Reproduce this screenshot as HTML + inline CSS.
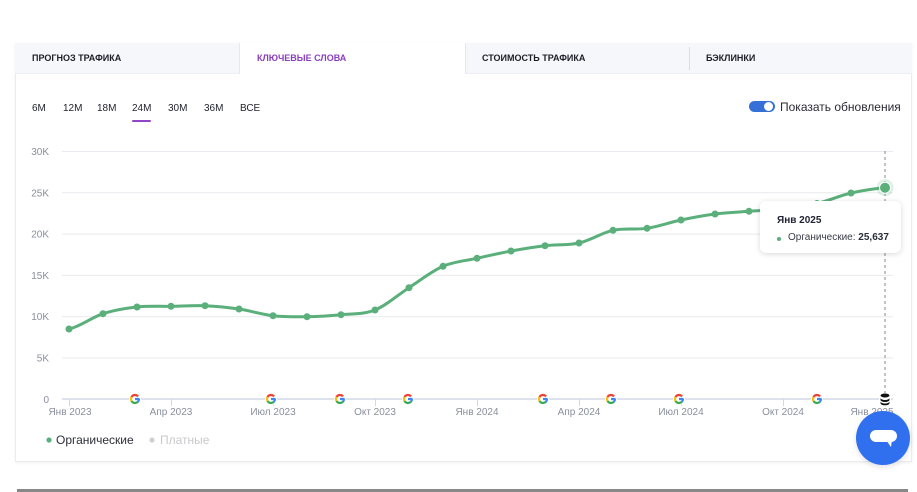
<!DOCTYPE html>
<html><head><meta charset="utf-8">
<style>
*{margin:0;padding:0;box-sizing:border-box}
html,body{width:917px;height:492px;background:#fff;overflow:hidden;font-family:"Liberation Sans","Noto Sans CJK SC",sans-serif}
.abs{position:absolute}
.card{left:15px;top:43px;width:897px;height:419px;background:#fff;border:1px solid #ececf0;border-top:none;box-shadow:0 1px 3px rgba(0,0,0,0.06)}
.tab{top:43px;height:31px;background:#f6f7fa;border-bottom:1px solid #eceef3;font-size:9px;font-weight:bold;color:#1e1e28;line-height:31px;white-space:nowrap}
.per{top:103px;font-size:10px;color:#23232e;white-space:nowrap;line-height:12px}
.tt{left:760px;top:201px;width:141px;height:52px;background:#fff;border-radius:6px;box-shadow:0 1px 6px rgba(0,0,0,0.16)}
</style></head><body>
<div class="abs card"></div>
<div class="abs tab" style="left:15px;width:225px;padding-left:17px;border-right:1px solid #e6e7ec">ПРОГНОЗ ТРАФИКА</div>
<div class="abs tab" style="left:240px;width:225px;padding-left:17px;background:#fff;border-bottom:none;color:#8a3fbd">КЛЮЧЕВЫЕ СЛОВА</div>
<div class="abs tab" style="left:465px;width:225px;padding-left:16px;border-left:1px solid #e6e7ec">СТОИМОСТЬ ТРАФИКА</div>
<div class="abs" style="left:689px;top:47px;width:1px;height:23px;background:#dcdde2"></div>
<div class="abs tab" style="left:690px;width:222px;padding-left:16px">БЭКЛИНКИ</div>

<div class="abs per" style="left:32px">6M</div>
<div class="abs per" style="left:63px">12M</div>
<div class="abs per" style="left:97px">18M</div>
<div class="abs per" style="left:132px">24M</div>
<div class="abs per" style="left:168px">30M</div>
<div class="abs per" style="left:204px">36M</div>
<div class="abs per" style="left:240px">ВСЕ</div>
<div class="abs" style="left:132px;top:120px;width:19px;height:2px;background:#9146c7;border-radius:1px"></div>

<div class="abs" style="left:749px;top:101px;width:26px;height:11px;border-radius:6px;background:#3470d6"></div>
<div class="abs" style="left:764px;top:102px;width:9px;height:9px;border-radius:50%;background:#fff"></div>
<div class="abs" style="left:780px;top:100px;font-size:12px;color:#2a2a35;white-space:nowrap;line-height:14px">Показать обновления</div>

<svg class="abs" style="left:0;top:0" width="917" height="492" viewBox="0 0 917 492" xmlns="http://www.w3.org/2000/svg">
<g stroke="#e9eaef" stroke-width="1">
<line x1="62" y1="151.5" x2="893" y2="151.5"/>
<line x1="62" y1="192.8" x2="893" y2="192.8"/>
<line x1="62" y1="234.1" x2="893" y2="234.1"/>
<line x1="62" y1="275.4" x2="893" y2="275.4"/>
<line x1="62" y1="316.7" x2="893" y2="316.7"/>
<line x1="62" y1="358" x2="893" y2="358"/>
</g>
<g font-family="Liberation Sans, sans-serif" font-size="10" fill="#8a8f9c" text-anchor="end">
<text x="49" y="155">30K</text>
<text x="49" y="196.3">25K</text>
<text x="49" y="237.6">20K</text>
<text x="49" y="278.9">15K</text>
<text x="49" y="320.2">10K</text>
<text x="49" y="361.5">5K</text>
<text x="49" y="402.8">0</text>
</g>
<line x1="62" y1="399" x2="893" y2="399" stroke="#d3d8e6" stroke-width="1.5"/>
<g stroke="#d3d8e6" stroke-width="1">
<line x1="69.5" y1="399" x2="69.5" y2="406"/>
<line x1="171.5" y1="399" x2="171.5" y2="406"/>
<line x1="273.5" y1="399" x2="273.5" y2="406"/>
<line x1="375.5" y1="399" x2="375.5" y2="406"/>
<line x1="477.5" y1="399" x2="477.5" y2="406"/>
<line x1="579.5" y1="399" x2="579.5" y2="406"/>
<line x1="681.5" y1="399" x2="681.5" y2="406"/>
<line x1="783.5" y1="399" x2="783.5" y2="406"/>
</g>
<g font-family="Liberation Sans, sans-serif" font-size="10" fill="#8a8f9c" text-anchor="middle">
<text x="70" y="415">Янв 2023</text>
<text x="171" y="415">Апр 2023</text>
<text x="273" y="415">Июл 2023</text>
<text x="375" y="415">Окт 2023</text>
<text x="477" y="415">Янв 2024</text>
<text x="579" y="415">Апр 2024</text>
<text x="681" y="415">Июл 2024</text>
<text x="783" y="415">Окт 2024</text>
<text x="872" y="415">Янв 2025</text>
</g>
<line x1="885" y1="151" x2="885" y2="399" stroke="#9a9ca3" stroke-width="1.2" stroke-dasharray="3,3"/>
<path fill="none" stroke="#5aaf7b" stroke-width="3" stroke-linecap="round" d="M69,329 C80.3,326.45 91.7,317.37 103,313.7 C114.3,310.03 125.7,308.23 137,307 C148.3,305.77 159.7,306.52 171,306.3 C182.3,306.08 193.7,305.25 205,305.7 C216.3,306.15 227.7,307.33 239,309 C250.3,310.67 261.7,314.42 273,315.7 C284.3,316.98 295.7,316.87 307,316.7 C318.3,316.53 329.7,315.82 341,314.7 C352.3,313.58 363.7,314.5 375,310 C386.3,305.5 397.7,294.98 409,287.7 C420.3,280.42 431.7,271.2 443,266.3 C454.3,261.4 465.7,260.85 477,258.3 C488.3,255.75 499.7,253.1 511,251 C522.3,248.9 533.7,247.03 545,245.7 C556.3,244.37 567.7,245.57 579,243 C590.3,240.43 601.7,232.75 613,230.3 C624.3,227.85 635.7,230.02 647,228.3 C658.3,226.58 669.7,222.38 681,220 C692.3,217.62 703.7,215.45 715,214 C726.3,212.55 737.7,212.13 749,211.3 C760.3,210.47 771.7,210.3 783,209 C794.3,207.7 805.7,206.17 817,203.5 C828.3,200.83 839.7,195.63 851,193 C862.3,190.37 873.7,188.58 885,187.7"/>
<g fill="#5aaf7b">
<circle cx="69" cy="329" r="3.5"/><circle cx="103" cy="313.7" r="3.5"/><circle cx="137" cy="307" r="3.5"/><circle cx="171" cy="306.3" r="3.5"/><circle cx="205" cy="305.7" r="3.5"/><circle cx="239" cy="309" r="3.5"/><circle cx="273" cy="315.7" r="3.5"/><circle cx="307" cy="316.7" r="3.5"/><circle cx="341" cy="314.7" r="3.5"/><circle cx="375" cy="310" r="3.5"/><circle cx="409" cy="287.7" r="3.5"/><circle cx="443" cy="266.3" r="3.5"/><circle cx="477" cy="258.3" r="3.5"/><circle cx="511" cy="251" r="3.5"/><circle cx="545" cy="245.7" r="3.5"/><circle cx="579" cy="243" r="3.5"/><circle cx="613" cy="230.3" r="3.5"/><circle cx="647" cy="228.3" r="3.5"/><circle cx="681" cy="220" r="3.5"/><circle cx="715" cy="214" r="3.5"/><circle cx="749" cy="211.3" r="3.5"/><circle cx="783" cy="209" r="3.5"/><circle cx="817" cy="203.5" r="3.5"/><circle cx="851" cy="193" r="3.5"/>
</g>
<circle cx="885" cy="187.7" r="8.5" fill="#5aaf7b" fill-opacity="0.2"/>
<circle cx="885" cy="187.7" r="5.5" fill="#5aaf7b" stroke="#fff" stroke-width="1"/>

<g fill="none" stroke-width="2.2">
<g transform="translate(135,399)"><circle r="6" fill="#fff" stroke="none"/><path d="M4,0 A4,4 0 0 1 2.83,2.83 M0,0 H4.6" stroke="#4285f4"/><path d="M2.83,2.83 A4,4 0 0 1 -3.46,2" stroke="#34a853"/><path d="M-3.46,2 A4,4 0 0 1 -3.46,-2" stroke="#fbbc05"/><path d="M-3.46,-2 A4,4 0 0 1 3.06,-2.57" stroke="#ea4335"/></g>
<g transform="translate(271,399)"><circle r="6" fill="#fff" stroke="none"/><path d="M4,0 A4,4 0 0 1 2.83,2.83 M0,0 H4.6" stroke="#4285f4"/><path d="M2.83,2.83 A4,4 0 0 1 -3.46,2" stroke="#34a853"/><path d="M-3.46,2 A4,4 0 0 1 -3.46,-2" stroke="#fbbc05"/><path d="M-3.46,-2 A4,4 0 0 1 3.06,-2.57" stroke="#ea4335"/></g>
<g transform="translate(340,399)"><circle r="6" fill="#fff" stroke="none"/><path d="M4,0 A4,4 0 0 1 2.83,2.83 M0,0 H4.6" stroke="#4285f4"/><path d="M2.83,2.83 A4,4 0 0 1 -3.46,2" stroke="#34a853"/><path d="M-3.46,2 A4,4 0 0 1 -3.46,-2" stroke="#fbbc05"/><path d="M-3.46,-2 A4,4 0 0 1 3.06,-2.57" stroke="#ea4335"/></g>
<g transform="translate(408,399)"><circle r="6" fill="#fff" stroke="none"/><path d="M4,0 A4,4 0 0 1 2.83,2.83 M0,0 H4.6" stroke="#4285f4"/><path d="M2.83,2.83 A4,4 0 0 1 -3.46,2" stroke="#34a853"/><path d="M-3.46,2 A4,4 0 0 1 -3.46,-2" stroke="#fbbc05"/><path d="M-3.46,-2 A4,4 0 0 1 3.06,-2.57" stroke="#ea4335"/></g>
<g transform="translate(543,399)"><circle r="6" fill="#fff" stroke="none"/><path d="M4,0 A4,4 0 0 1 2.83,2.83 M0,0 H4.6" stroke="#4285f4"/><path d="M2.83,2.83 A4,4 0 0 1 -3.46,2" stroke="#34a853"/><path d="M-3.46,2 A4,4 0 0 1 -3.46,-2" stroke="#fbbc05"/><path d="M-3.46,-2 A4,4 0 0 1 3.06,-2.57" stroke="#ea4335"/></g>
<g transform="translate(611,399)"><circle r="6" fill="#fff" stroke="none"/><path d="M4,0 A4,4 0 0 1 2.83,2.83 M0,0 H4.6" stroke="#4285f4"/><path d="M2.83,2.83 A4,4 0 0 1 -3.46,2" stroke="#34a853"/><path d="M-3.46,2 A4,4 0 0 1 -3.46,-2" stroke="#fbbc05"/><path d="M-3.46,-2 A4,4 0 0 1 3.06,-2.57" stroke="#ea4335"/></g>
<g transform="translate(679,399)"><circle r="6" fill="#fff" stroke="none"/><path d="M4,0 A4,4 0 0 1 2.83,2.83 M0,0 H4.6" stroke="#4285f4"/><path d="M2.83,2.83 A4,4 0 0 1 -3.46,2" stroke="#34a853"/><path d="M-3.46,2 A4,4 0 0 1 -3.46,-2" stroke="#fbbc05"/><path d="M-3.46,-2 A4,4 0 0 1 3.06,-2.57" stroke="#ea4335"/></g>
<g transform="translate(817,399)"><circle r="6" fill="#fff" stroke="none"/><path d="M4,0 A4,4 0 0 1 2.83,2.83 M0,0 H4.6" stroke="#4285f4"/><path d="M2.83,2.83 A4,4 0 0 1 -3.46,2" stroke="#34a853"/><path d="M-3.46,2 A4,4 0 0 1 -3.46,-2" stroke="#fbbc05"/><path d="M-3.46,-2 A4,4 0 0 1 3.06,-2.57" stroke="#ea4335"/></g>
</g>
<g transform="translate(885,399)">
<rect x="-6" y="-6" width="12" height="12" fill="#fff"/>
<ellipse cx="0" cy="-3.5" rx="4.5" ry="2" fill="#111"/>
<path d="M-4.5,-1 A4.5,2 0 0 0 4.5,-1 L4.5,1 A4.5,2 0 0 1 -4.5,1 Z" fill="#111"/>
<path d="M-4.5,2.5 A4.5,2 0 0 0 4.5,2.5 L4.5,4.3 A4.5,2 0 0 1 -4.5,4.3 Z" fill="#111"/>
</g>
<circle cx="49" cy="440" r="2.6" fill="#5aaf7b"/>
<text x="56" y="444" font-family="Liberation Sans, sans-serif" font-size="12" fill="#2c2f3a">Органические</text>
<circle cx="152" cy="440" r="2.6" fill="#d0d0d4"/>
<text x="160" y="444" font-family="Liberation Sans, sans-serif" font-size="12" fill="#c9c9cd">Платные</text>
<rect x="17" y="489" width="891" height="3" fill="#888"/>
</svg>

<div class="abs tt">
<div class="abs" style="left:17px;top:14px;font-size:10px;color:#1f2233;font-weight:bold;white-space:nowrap">Янв 2025</div>
<div class="abs" style="left:17px;top:36px;width:4px;height:4px;border-radius:50%;background:#5aaf7b"></div>
<div class="abs" style="left:28px;top:31px;font-size:10px;color:#3a3d4a;white-space:nowrap">Органические: <b style="color:#2a2d3a">25,637</b></div>
</div>

<div class="abs" style="left:856px;top:411px;width:54px;height:54px;border-radius:50%;background:#3070ee;box-shadow:0 2px 6px rgba(0,0,0,0.12)"></div>
<div class="abs" style="left:870px;top:430px;width:27px;height:12px;border-radius:6px;background:#fff"></div>
<svg class="abs" style="left:885px;top:440px" width="8" height="9"><path d="M1,0 L7,0 L6,7 Z" fill="#fff"/></svg>
</body></html>
